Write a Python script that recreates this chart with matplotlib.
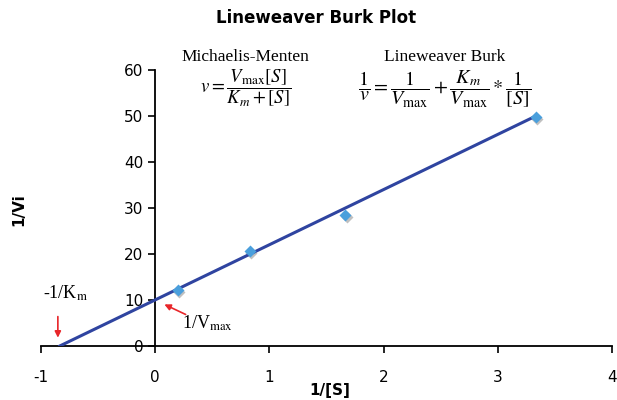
import numpy as np
import matplotlib.pyplot as plt

# reciprocal data
inv_s = [0.2, 0.833, 1.667, 3.333]
inv_v = [12.2, 20.7, 28.5, 49.8]
fit_x = [-0.833, 3.333]
intercept = 10.0
slope = 12.0

plt.rcParams['mathtext.fontset'] = 'stix'
plt.rcParams['axes.unicode_minus'] = False

fig = plt.figure(figsize=(6.17, 4.0), dpi=100)
ax = fig.add_axes([0.066, 0.135, 0.926, 0.69])

fit_y = [intercept + slope * x for x in fit_x]
ax.plot(fit_x, fit_y, color='#2f44a0', lw=2.2, zorder=3)
ax.plot(np.array(inv_s) + 0.01, np.array(inv_v) - 0.4, 'D', color='#c0c0c0',
        ms=6, mec='none', zorder=2)
ax.plot(inv_s, inv_v, 'D', color='#4a9fdc', ms=6, mec='none', zorder=4)

ax.set_xlim(-1, 4)
ax.set_ylim(0, 60)
ax.spines['left'].set_position(('data', 0))
ax.spines['bottom'].set_position(('data', 0))
ax.spines['top'].set_visible(False)
ax.spines['right'].set_visible(False)
ax.spines['left'].set_linewidth(1.3)
ax.spines['bottom'].set_linewidth(1.3)
ax.set_xticks(range(-1, 5))
ax.set_yticks(range(0, 61, 10))
ax.tick_params(direction='out', length=5, width=1.2, labelsize=11)
ax.tick_params(axis='x', pad=12)

fig.text(0.512, 0.955, 'Lineweaver Burk Plot', ha='center', va='center',
         fontsize=12, fontweight='bold')
fig.text(0.535, 0.025, '1/[S]', ha='center', va='center', fontsize=11, fontweight='bold')
fig.text(0.03, 0.475, '1/Vi', ha='center', va='center', rotation=90,
         fontsize=11, fontweight='bold')

serif = 'Liberation Serif'
fig.text(0.398, 0.857, 'Michaelis-Menten', ha='center', va='center',
         family=serif, fontsize=12.5)
fig.text(0.398, 0.778, r'$v=\dfrac{V_{\mathrm{max}}[S]}{K_m+[S]}$', ha='center',
         va='center', fontsize=13.5)
fig.text(0.72, 0.857, 'Lineweaver Burk', ha='center', va='center',
         family=serif, fontsize=12.5)
fig.text(0.72, 0.778,
         r'$\dfrac{1}{v}=\dfrac{1}{V_{\mathrm{max}}}+\dfrac{K_m}{V_{\mathrm{max}}}*\dfrac{1}{[S]}$',
         ha='center', va='center', fontsize=14.5)

ax.text(-0.98, 11.5, r'-1/K$_{\mathrm{m}}$', family=serif, fontsize=13, ha='left',
        va='center')
ax.annotate('', xy=(-0.85, 1.2), xytext=(-0.85, 7.0),
            arrowprops=dict(arrowstyle='-|>', color='#e8262a', lw=1.2,
                            mutation_scale=9))
ax.text(0.24, 5.0, r'1/V$_{\mathrm{max}}$', family=serif, fontsize=13, ha='left',
        va='center')
ax.annotate('', xy=(0.06, 9.3), xytext=(0.29, 6.6),
            arrowprops=dict(arrowstyle='-|>', color='#e8262a', lw=1.2,
                            mutation_scale=9))

fig.savefig('out.png', dpi=100)
